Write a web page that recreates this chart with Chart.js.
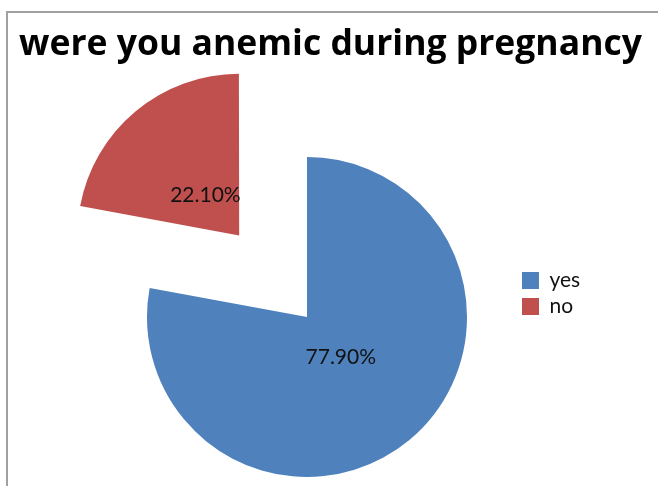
<!DOCTYPE html>
<html>
<head>
<meta charset="utf-8">
<script src="https://cdn.jsdelivr.net/npm/chart.js@4/dist/chart.umd.min.js"></script>
<style>
  html, body { margin: 0; padding: 0; background: #fff; overflow: hidden; }
  #wrap { position: relative; width: 658px; height: 486px; }
  #frame { position: absolute; left: 6px; top: 11px; right: -10px; bottom: -10px;
           border-left: 2px solid #a0a0a0; border-top: 2px solid #a0a0a0; }
  #title { position: absolute; left: 0; top: 19px; width: 661px; text-align: center;
           font: bold 35.5px/44px "Open Sans", sans-serif; color: #000; white-space: nowrap; }
  canvas { position: absolute; left: 0; top: 0; }
</style>
</head>
<body>
<div id="wrap">
  <div id="frame"></div>
  <canvas id="pie" width="658" height="486"></canvas>
  <div id="title"></div>
</div>
<script>
'use strict'

const categories = ['yes', 'no'];
const shares = [77.9, 22.1];
const sliceColors = ['#4F81BD', '#C0504D'];
const chartTitle = 'were you anemic during pregnancy';

document.getElementById('title').textContent = chartTitle;

// labels sit at a third of the radius, measured from the (exploded) slice apex
const sliceLabels = {
	id: 'sliceLabels',
	afterDatasetsDraw(chart) {
		const ctx = chart.ctx;
		const meta = chart.getDatasetMeta(0);
		ctx.save();
		ctx.font = '21px Lato';
		ctx.fillStyle = '#111';
		ctx.textAlign = 'center';
		ctx.textBaseline = 'middle';
		meta.data.forEach((arc, i) => {
			const p = arc.getProps(['x', 'y', 'startAngle', 'endAngle', 'outerRadius'], true);
			const mid = (p.startAngle + p.endAngle) / 2;
			const d = (arc.options.offset || 0) / 4 + p.outerRadius * 0.33;
			ctx.fillText(shares[i].toFixed(2) + '%', p.x + Math.cos(mid) * d, p.y + Math.sin(mid) * d);
		});
		ctx.restore();
	}
};

new Chart(document.getElementById('pie'), {
	type: 'pie',
	data: {
		labels: categories,
		datasets: [{
			data: shares,
			backgroundColor: sliceColors,
			borderWidth: 0,
			radius: 160,
			cutout: '0%',
			offset: [0, 424],
			clip: false,
		}],
	},
	options: {
		responsive: false,
		animation: false,
		layout: {
			padding: { left: 97, right: 77, top: 148, bottom: 0 },
		},
		plugins: {
			title: { display: false },
			legend: {
				position: 'right',
				align: 'start',
				maxWidth: 64,
				// empty title only used as a spacer above the items
				title: {
					display: true,
					text: '',
					font: { size: 12 },
					padding: { top: 0, bottom: 102.6 },
				},
				labels: {
					boxWidth: 17,
					boxHeight: 17,
					padding: 5,
					color: '#111',
					font: { family: 'Lato', size: 21, lineHeight: 1 },
				},
			},
			tooltip: { enabled: false },
		},
	},
	plugins: [sliceLabels],
});
</script>
</body>
</html>
